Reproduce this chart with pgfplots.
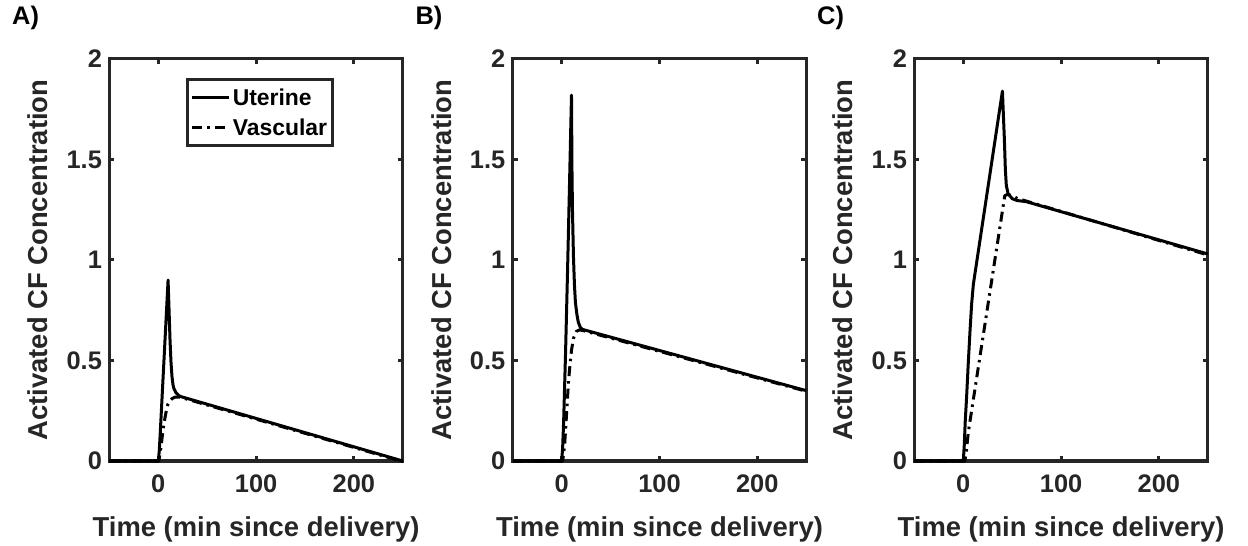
\documentclass[border=0pt]{standalone}
\usepackage{fontspec}
\setmainfont{Liberation Sans}
\usepackage{pgfplots}
\pgfplotsset{compat=1.18}
\definecolor{axgray}{HTML}{262626}

\pgfplotsset{
  cfpanel/.style={
    scale only axis, width=293.4bp, height=402bp,
    xmin=-50, xmax=250, ymin=0, ymax=2,
    xtick={0,100,200}, ytick={0,0.5,1,1.5,2},
    tick align=inside, major tick length=5bp,
    axis line style={draw=axgray, line width=3bp},
    tick style={draw=axgray, line width=3bp},
    /pgf/number format/assume math mode=true,
    ticklabel style={font=\fontsize{25.5}{30}\selectfont\bfseries, text=axgray},
    xticklabel style={yshift=-10bp},
    yticklabel style={xshift=-4bp},
    xlabel={Time (min since delivery)},
    xlabel style={at={(axis description cs:0.5,-0.189)}, anchor=base, inner sep=0pt,
      font=\fontsize{27.5}{32}\selectfont\bfseries, text=axgray},
    ylabel={Activated CF Concentration},
    ylabel style={at={(axis description cs:-0.208,0.5)}, anchor=south, inner sep=0pt,
      font=\fontsize{27.5}{32}\selectfont\bfseries, text=axgray},
    title style={at={(axis description cs:-0.332,1.072)}, anchor=base west, inner sep=0pt,
      font=\fontsize{25.5}{30}\selectfont\bfseries, text=black},
    clip=false,
  },
  uter/.style={black, line width=3bp, line join=round},
  vasc/.style={black, line width=3bp, line join=round, dash pattern=on 10bp off 5bp on 2.5bp off 5bp},
}

\begin{document}
\begin{tikzpicture}
\path[use as bounding box] (0,0) rectangle (1248bp,546bp);

% A)
\begin{axis}[cfpanel, at={(109.4bp,85bp)}, anchor=south west, title={A)},
  legend style={at={(axis description cs:0.262,0.9527)}, anchor=north west,
    draw=axgray, line width=3bp, inner xsep=3bp, inner ysep=7bp,
    font=\fontsize{23}{27}\selectfont\bfseries, text=black,
    cells={anchor=west}, row sep=8bp},
  legend image code/.code={\draw[#1] (0bp,0bp) -- (37bp,0bp);}]
  \addplot[uter] coordinates {
    (-50,0) (0,0) (1,0.05) (2,0.14) (4,0.33) (6,0.52) (8,0.71) (10,0.90)
    (11,0.75) (12,0.60) (13,0.49) (14,0.42) (15,0.38) (16,0.36) (18,0.34)
    (20,0.33) (22,0.322) (250,0.0)
  };
  \addlegendentry{Uterine}
  \addplot[vasc] coordinates {
    (-50,0) (0.5,0) (2,0.04) (3.5,0.10) (5,0.16) (7,0.22) (8.6,0.26)
    (10,0.285) (12,0.30) (14,0.31) (17,0.318) (22,0.318) (250,-0.003)
  };
  \addlegendentry{Vascular}
\end{axis}

% B)
\begin{axis}[cfpanel, at={(512.8bp,85bp)}, anchor=south west, title={B)}]
  \addplot[uter] coordinates {
    (-50,0) (0,0) (1,0.07) (2,0.20) (4,0.55) (6,0.95) (8,1.38) (10,1.82)
    (10.5,1.45) (11,1.25) (12,1.02) (13,0.88) (14,0.79) (15.5,0.73)
    (17,0.69) (19,0.665) (21,0.655) (250,0.35)
  };
  \addplot[vasc] coordinates {
    (-50,0) (1,0) (3,0.08) (5.3,0.26) (7,0.40) (8.7,0.49) (10,0.55)
    (12,0.61) (15,0.645) (18,0.652) (21,0.65) (250,0.347)
  };
\end{axis}

% C)
\begin{axis}[cfpanel, at={(914.4bp,85bp)}, anchor=south west, title={C)}]
  \addplot[uter] coordinates {
    (-50,0) (0,0) (1,0.08) (2,0.20) (3.4,0.32) (5,0.48) (6.9,0.65)
    (8.5,0.78) (10.3,0.88) (40,1.84) (42,1.60) (43,1.45) (44,1.37)
    (45.8,1.33) (50,1.305) (55,1.296) (64.5,1.29) (250,1.03)
  };
  \addplot[vasc] coordinates {
    (-50,0) (1.5,0) (3,0.04) (5,0.14) (42.4,1.32) (45,1.326) (48.7,1.322)
    (55,1.307) (64.5,1.293) (250,1.025)
  };
\end{axis}
\end{tikzpicture}
\end{document}
